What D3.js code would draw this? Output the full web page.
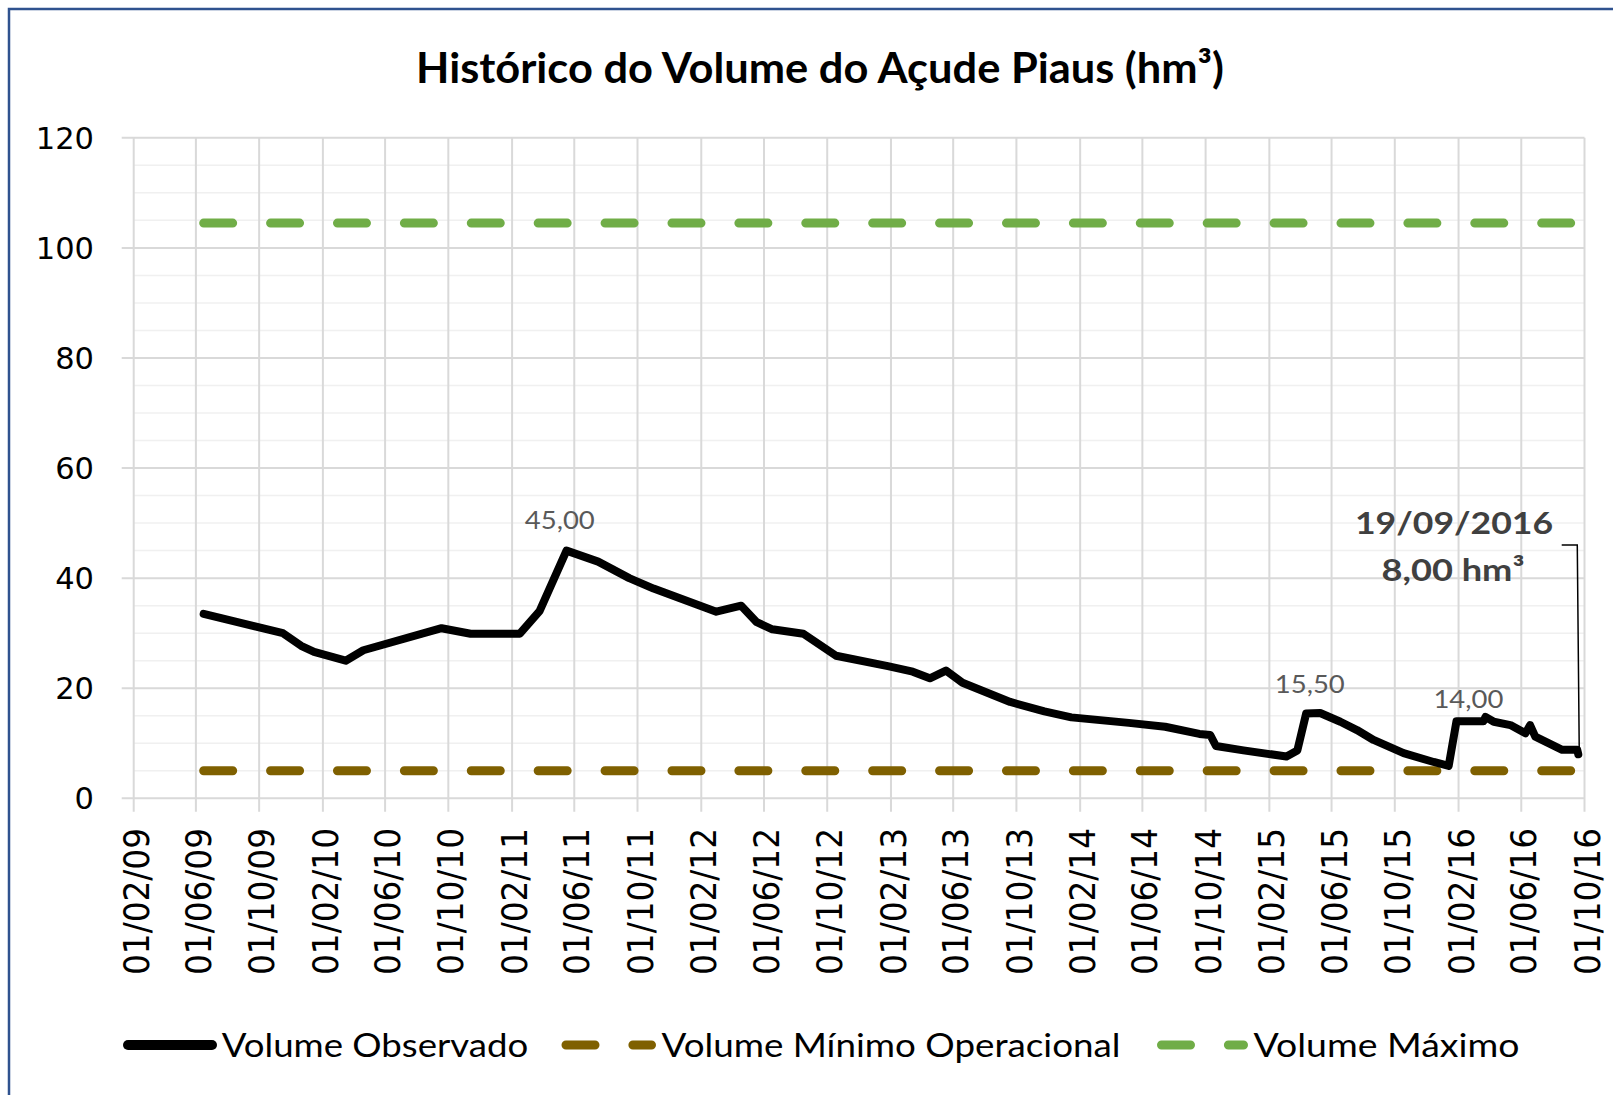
<!DOCTYPE html>
<html>
<head>
<meta charset="utf-8">
<script src="https://cdn.jsdelivr.net/npm/d3@7"></script>
<style>
  html, body { margin: 0; padding: 0; background: #fff; }
  svg { display: block; }
</style>
</head>
<body>
<svg id="chart" width="1613" height="1095"></svg>
<script>
// ---------------- DATA ----------------
const titleText = "Histórico do Volume do Açude Piaus (hm³)";

const obsDates = [
  "2009-06-16","2009-11-16","2009-12-21","2010-01-15","2010-03-17","2010-04-20",
  "2010-09-18","2010-11-13","2011-02-16","2011-03-26","2011-05-17","2011-07-17",
  "2011-09-15","2011-11-01","2012-03-01","2012-04-18","2012-05-18","2012-06-17",
  "2012-08-16","2012-10-18","2013-01-26","2013-03-15","2013-04-17","2013-05-18",
  "2013-06-19","2013-09-19","2013-11-24","2014-01-15","2014-05-06","2014-07-15",
  "2014-09-19","2014-10-10","2014-10-21","2014-12-13","2015-03-06","2015-03-27",
  "2015-04-13","2015-05-10","2015-06-18","2015-07-20","2015-08-21","2015-10-18",
  "2015-12-15","2016-01-13","2016-01-28","2016-03-20","2016-03-24","2016-04-09",
  "2016-05-11","2016-06-09","2016-06-18","2016-06-28","2016-08-19","2016-09-17",
  "2016-09-19"
];
const obsValues = [
  33.5, 30.0, 27.7, 26.6, 25.0, 26.9,
  30.9, 29.9, 29.9, 34.0, 45.0, 43.0,
  40.0, 38.1, 33.9, 35.0, 32.0, 30.7,
  29.9, 25.9, 24.0, 23.0, 21.8, 23.2,
  21.0, 17.5, 15.8, 14.7, 13.7, 13.0,
  11.7, 11.5, 9.5, 8.7, 7.6, 8.7,
  15.4, 15.5, 13.9, 12.4, 10.6, 8.2,
  6.6, 5.9, 14.0, 14.0, 14.8, 13.9,
  13.3, 11.8, 13.3, 11.2, 8.8, 8.8,
  8.0
];

const minDates = ["2009-06-16", "2016-09-19"];
const minValues = [5.0, 5.0];
const maxDates = ["2009-06-16", "2016-09-19"];
const maxValues = [104.5, 104.5];

const tickDates = [
  "2009-02-01","2009-06-01","2009-10-01","2010-02-01","2010-06-01","2010-10-01",
  "2011-02-01","2011-06-01","2011-10-01","2012-02-01","2012-06-01","2012-10-01",
  "2013-02-01","2013-06-01","2013-10-01","2014-02-01","2014-06-01","2014-10-01",
  "2015-02-01","2015-06-01","2015-10-01","2016-02-01","2016-06-01","2016-10-01"
];
const yTicks = [0, 20, 40, 60, 80, 100, 120];
const yMinorTicks = [5,10,15,25,30,35,45,50,55,65,70,75,85,90,95,105,110,115];

const labelDates = ["2011-05-04", "2015-04-20", "2016-02-20"];
const labelValues = [45.0, 15.5, 14.0];
const labelTexts = ["45,00", "15,50", "14,00"];

const annotDate = "2016-09-19";
const annotLines = ["19/09/2016", "8,00 hm³"];

const legendItems = ["Volume Observado", "Volume Mínimo Operacional", "Volume Máximo"];
const colors = ["#000000", "#7F6000", "#70AD47"];

// ---------------- DRAW ----------------
const parse = d3.utcParse("%Y-%m-%d");
const fmt = d3.utcFormat("%d/%m/%y");
const svg = d3.select("#chart");

const x = d3.scaleUtc()
  .domain([parse(tickDates[0]), parse(tickDates[tickDates.length - 1])])
  .range([133.7, 1584.5]);
const y = d3.scaleLinear().domain([0, 120]).range([798.3, 137.8]);

svg.append("rect").attr("width", 1613).attr("height", 1095).attr("fill", "#fff");

// outer border (top + left visible)
svg.append("rect").attr("x", 9).attr("y", 9).attr("width", 1650).attr("height", 1150)
  .attr("fill", "none").attr("stroke", "#2F528F").attr("stroke-width", 2.5);

// title
svg.append("text")
  .attr("x", 820).attr("y", 83.3)
  .attr("text-anchor", "middle")
  .attr("font-family", "Lato, 'Open Sans', sans-serif")
  .attr("font-weight", "bold")
  .attr("font-size", 42)
  .attr("fill", "#000")
  .attr("textLength", 808).attr("lengthAdjust", "spacingAndGlyphs")
  .text(titleText);

const xLeft = x.range()[0], xRight = x.range()[1];

// minor horizontal gridlines
svg.append("g").selectAll("line").data(yMinorTicks).join("line")
  .attr("x1", xLeft).attr("x2", xRight)
  .attr("y1", d => y(d)).attr("y2", d => y(d))
  .attr("stroke", "#F0F0F0").attr("stroke-width", 1.5);

// major horizontal gridlines
svg.append("g").selectAll("line").data(yTicks).join("line")
  .attr("x1", 121.7).attr("x2", xRight)
  .attr("y1", d => y(d)).attr("y2", d => y(d))
  .attr("stroke", "#D9D9D9").attr("stroke-width", 2);

// vertical gridlines + ticks
svg.append("g").selectAll("line").data(tickDates).join("line")
  .attr("x1", d => x(parse(d))).attr("x2", d => x(parse(d)))
  .attr("y1", y(120)).attr("y2", y(0) + 13.4)
  .attr("stroke", "#D9D9D9").attr("stroke-width", 2);

// y labels
svg.append("g").selectAll("text").data(yTicks).join("text")
  .attr("x", 94).attr("y", d => y(d))
  .attr("dy", "0.36em")
  .attr("text-anchor", "end")
  .attr("font-family", "'DejaVu Sans', sans-serif")
  .attr("font-size", 30.5)
  .attr("fill", "#000")
  .text(d => d);

// x labels
svg.append("g").selectAll("text").data(tickDates).join("text")
  .attr("transform", d => `translate(${x(parse(d)) + 2.5},828) rotate(-90)`)
  .attr("dy", "0.36em")
  .attr("text-anchor", "end")
  .attr("font-family", "'DejaVu Sans', sans-serif")
  .attr("font-size", 35)
  .attr("fill", "#000")
  .attr("textLength", 147).attr("lengthAdjust", "spacingAndGlyphs")
  .text(d => fmt(parse(d)));

const line = d3.line().x(d => x(d[0])).y(d => y(d[1]));

// dashed reference lines
const dashed = [
  {dates: minDates, values: minValues, color: colors[1]},
  {dates: maxDates, values: maxValues, color: colors[2]}
];
dashed.forEach(s => {
  svg.append("path")
    .datum(s.dates.map((d, i) => [parse(d), s.values[i]]))
    .attr("d", line)
    .attr("fill", "none")
    .attr("stroke", s.color)
    .attr("stroke-width", 9)
    .attr("stroke-linecap", "round")
    .attr("stroke-dasharray", "29 37.9");
});

// observed line
svg.append("path")
  .datum(obsDates.map((d, i) => [parse(d), obsValues[i]]))
  .attr("d", line)
  .attr("fill", "none")
  .attr("stroke", colors[0])
  .attr("stroke-width", 8)
  .attr("stroke-linejoin", "round")
  .attr("stroke-linecap", "round");

// point labels
const labelOffsets = [21.3, 19.7, 13];
svg.append("g").selectAll("text").data(labelTexts).join("text")
  .attr("x", (d, i) => x(parse(labelDates[i])))
  .attr("y", (d, i) => y(labelValues[i]) - labelOffsets[i])
  .attr("text-anchor", "middle")
  .attr("font-family", "Lato, 'Open Sans', sans-serif")
  .attr("font-size", 25)
  .attr("fill", "#595959")
  .attr("textLength", 70).attr("lengthAdjust", "spacingAndGlyphs")
  .text(d => d);

// annotation
const ax = x(parse(annotDate));
const ay = y(obsValues[obsValues.length - 1]);
svg.append("path")
  .attr("d", `M1561.7,545 L${ax - 1},545 L${ax + 1},${ay}`)
  .attr("fill", "none").attr("stroke", "#000").attr("stroke-width", 1.5);
svg.append("text")
  .attr("x", 1454).attr("y", 534)
  .attr("text-anchor", "middle")
  .attr("font-family", "Lato, 'Open Sans', sans-serif")
  .attr("font-weight", "bold").attr("font-size", 31).attr("fill", "#404040")
  .attr("textLength", 198).attr("lengthAdjust", "spacingAndGlyphs")
  .text(annotLines[0]);
svg.append("text")
  .attr("x", 1453).attr("y", 581)
  .attr("text-anchor", "middle")
  .attr("font-family", "Lato, 'Open Sans', sans-serif")
  .attr("font-weight", "bold").attr("font-size", 31).attr("fill", "#404040")
  .attr("textLength", 143).attr("lengthAdjust", "spacingAndGlyphs")
  .text(annotLines[1]);

// legend
const legendLayout = [
  {x1: 128, x2: 212, tx: 221.7, tw: 306.6, dash: null, w: 10},
  {x1: 566, x2: 651.5, tx: 661.5, tw: 459, dash: "29 37.9", w: 9},
  {x1: 1161.5, x2: 1243.5, tx: 1253.5, tw: 266, dash: "29 37.9", w: 9}
];
const lg = svg.append("g");
legendItems.forEach((name, i) => {
  const L = legendLayout[i];
  lg.append("line")
    .attr("x1", L.x1).attr("x2", L.x2).attr("y1", 1045).attr("y2", 1045)
    .attr("stroke", colors[i]).attr("stroke-width", L.w)
    .attr("stroke-linecap", "round")
    .attr("stroke-dasharray", L.dash);
  lg.append("text")
    .attr("x", L.tx).attr("y", 1056.7)
    .attr("font-family", "Lato, 'Open Sans', sans-serif")
    .attr("font-size", 33)
    .attr("fill", "#000")
    .attr("textLength", L.tw).attr("lengthAdjust", "spacingAndGlyphs")
    .text(name);
});
</script>
</body>
</html>
